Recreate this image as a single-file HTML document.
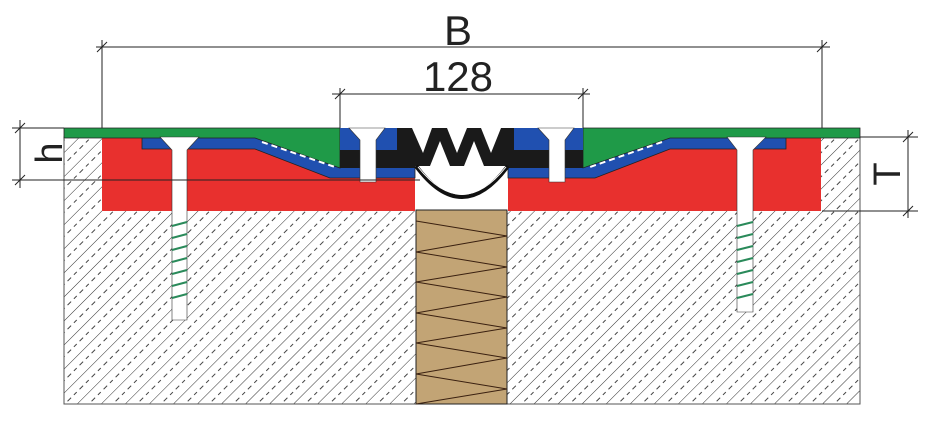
<!DOCTYPE html>
<html><head><meta charset="utf-8"><style>html,body{margin:0;padding:0;background:#fff}svg{display:block}</style></head>
<body>
<svg width="928" height="438" viewBox="0 0 928 438" xmlns="http://www.w3.org/2000/svg">
<defs>
<pattern id="h" width="17" height="17" patternUnits="userSpaceOnUse" patternTransform="rotate(-45)">
<line x1="0" y1="0" x2="17" y2="0" stroke="#333" stroke-width="1"/>
<line x1="2" y1="8.5" x2="7" y2="8.5" stroke="#444" stroke-width="1"/>
<line x1="11" y1="8.5" x2="15" y2="8.5" stroke="#444" stroke-width="1"/>
</pattern>
</defs>
<rect x="64" y="137" width="796" height="267" fill="url(#h)" stroke="#555" stroke-width="1"/>
<rect x="415" y="160" width="93" height="52" fill="#fff"/>
<rect x="416" y="210" width="91" height="194" fill="#c2a475" stroke="#222" stroke-width="1"/>
<polyline points="416,221 507,236 416,252 507,267 416,282 507,297 416,313 507,328 416,343 507,358 416,374 507,389 416,404" fill="none" stroke="#3a2010" stroke-width="1"/>
<rect x="102" y="137" width="313" height="74" fill="#e8302e"/>
<rect x="508" y="137" width="313" height="74" fill="#e8302e"/>
<polygon points="142,137 255,137 340,166 415,166 415,178 330,178 255,149 142,149" fill="#2050b0" stroke="#222" stroke-width="0.8"/>
<polygon points="786,137 670,137 585,166 508,166 508,178 595,178 670,149 786,149" fill="#2050b0" stroke="#222" stroke-width="0.8"/>
<polygon points="64,128 340,128 340,168 255,138 64,138" fill="#1f9a48" stroke="#222" stroke-width="0.8"/>
<polygon points="860,128 583,128 583,168 670,138 860,138" fill="#1f9a48" stroke="#222" stroke-width="0.8"/>
<line x1="262" y1="142" x2="335" y2="167" stroke="#fff" stroke-width="2" stroke-dasharray="6,4"/>
<line x1="662" y1="142" x2="590" y2="167" stroke="#fff" stroke-width="2" stroke-dasharray="6,4"/>
<rect x="340" y="128" width="75" height="40" fill="#2050b0"/>
<rect x="508" y="128" width="75" height="40" fill="#2050b0"/>
<rect x="340" y="150" width="75" height="18" fill="#1a1a1a"/>
<rect x="508" y="150" width="75" height="18" fill="#1a1a1a"/>
<rect x="397" y="128" width="117" height="38" fill="#1a1a1a"/>
<g fill="#fff">
<polygon points="412,128 432,128 423,153"/>
<polygon points="447,128 467,128 457,153"/>
<polygon points="481,128 501,128 491,153"/>
<polygon points="430,166 450,166 440,141"/>
<polygon points="464,166 484,166 474,141"/>
</g>
<path d="M416,166 Q462,228 508,166" fill="none" stroke="#111" stroke-width="4"/>
<path d="M418,167 Q462,222 506,167" fill="none" stroke="#fff" stroke-width="1"/>
<g fill="#fff" stroke="#333" stroke-width="0.6">
<polygon points="349,128 385,128 376,140 376,182 360,182 360,140"/>
<polygon points="538,128 574,128 565,140 565,182 549,182 549,140"/>
<polygon points="160,137 199,137 187,150 187,320 172,320 172,150"/>
<polygon points="727,137 766,137 753,150 753,312 737,312 737,150"/>
</g>
<g stroke="#2a8a5a" stroke-width="2">
<line x1="172" y1="226" x2="187" y2="222"/><line x1="172" y1="238" x2="187" y2="234"/><line x1="172" y1="250" x2="187" y2="246"/><line x1="172" y1="262" x2="187" y2="258"/><line x1="172" y1="274" x2="187" y2="270"/><line x1="172" y1="286" x2="187" y2="282"/><line x1="172" y1="298" x2="187" y2="294"/>
<line x1="737" y1="226" x2="753" y2="222"/><line x1="737" y1="238" x2="753" y2="234"/><line x1="737" y1="250" x2="753" y2="246"/><line x1="737" y1="262" x2="753" y2="258"/><line x1="737" y1="274" x2="753" y2="270"/><line x1="737" y1="286" x2="753" y2="282"/><line x1="737" y1="298" x2="753" y2="294"/>
</g>
<g stroke="#222" stroke-width="1">
<line x1="96" y1="47" x2="830" y2="47"/>
<line x1="102" y1="40" x2="102" y2="128"/><line x1="822" y1="40" x2="822" y2="128"/>
<line x1="97" y1="52" x2="107" y2="42"/><line x1="817" y1="52" x2="827" y2="42"/>
<line x1="332" y1="94" x2="590" y2="94"/>
<line x1="340" y1="88" x2="340" y2="128"/><line x1="583" y1="88" x2="583" y2="128"/>
<line x1="335" y1="99" x2="345" y2="89"/><line x1="578" y1="99" x2="588" y2="89"/>
<line x1="12" y1="128" x2="64" y2="128"/>
<line x1="12" y1="180" x2="420" y2="180"/>
<line x1="20" y1="120" x2="20" y2="188"/>
<line x1="15" y1="133" x2="25" y2="123"/><line x1="15" y1="185" x2="25" y2="175"/>
<line x1="860" y1="137" x2="918" y2="137"/>
<line x1="822" y1="211" x2="918" y2="211"/>
<line x1="908" y1="130" x2="908" y2="218"/>
<line x1="903" y1="142" x2="913" y2="132"/><line x1="903" y1="216" x2="913" y2="206"/>
</g>
<g font-family="Liberation Sans, sans-serif" fill="#222">
<text x="458" y="45" font-size="42" text-anchor="middle">B</text>
<text x="458" y="91" font-size="42" text-anchor="middle">128</text>
<text transform="translate(62,153) rotate(-90)" font-size="38" text-anchor="middle">h</text>
<text transform="translate(900,174) rotate(-90)" font-size="38" text-anchor="middle">T</text>
</g>
</svg>
</body></html>
